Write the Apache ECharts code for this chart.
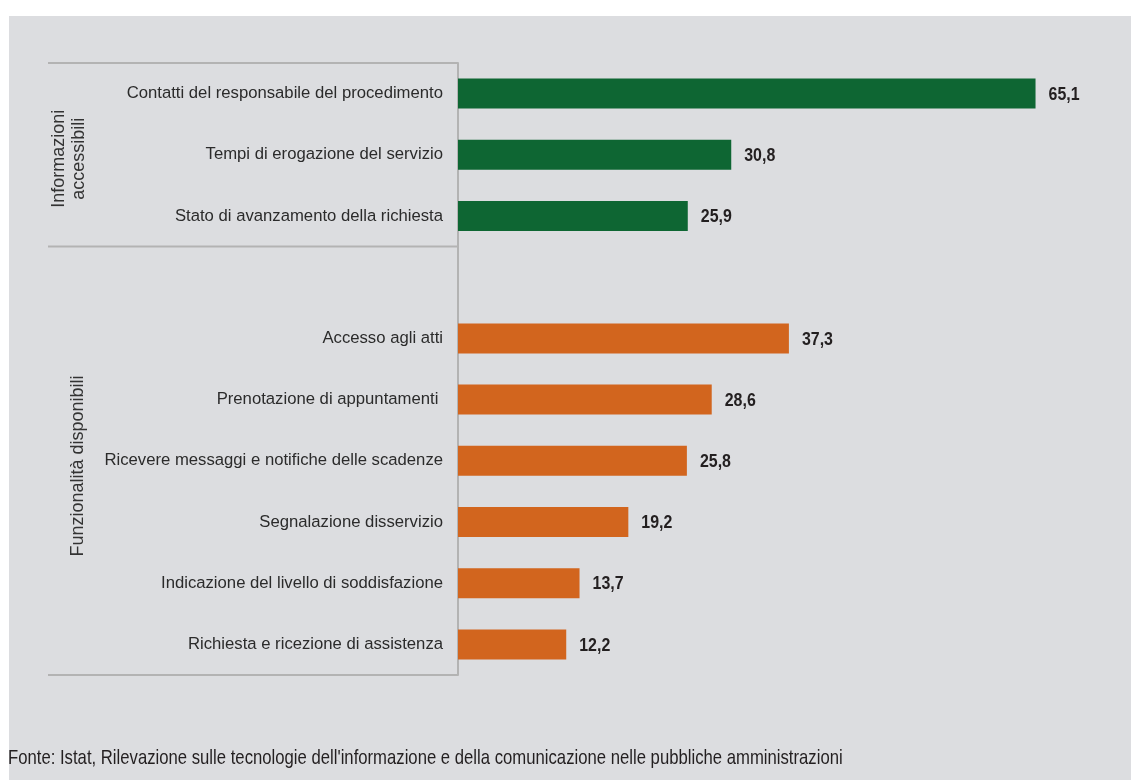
<!DOCTYPE html>
<html>
<head>
<meta charset="utf-8">
<script src="https://cdn.jsdelivr.net/npm/echarts@6/dist/echarts.min.js"></script>
<style>
html,body{margin:0;padding:0;background:#ffffff;}
#chart{width:1131px;height:780px;}
</style>
</head>
<body>
<div id="chart"></div>
<script>
// Categories (blank entry = gap between the two groups)
const categories = [
  'Contatti del responsabile del procedimento',
  'Tempi di erogazione del servizio',
  'Stato di avanzamento della richiesta',
  '',
  'Accesso agli atti',
  'Prenotazione di appuntamenti ',
  'Ricevere messaggi e notifiche delle scadenze',
  'Segnalazione disservizio',
  'Indicazione del livello di soddisfazione',
  'Richiesta e ricezione di assistenza'
];
const infoValues = [65.1, 30.8, 25.9, null, null, null, null, null, null, null];
const funzValues = [null, null, null, null, 37.3, 28.6, 25.8, 19.2, 13.7, 12.2];
const groupLabels = ['Informazioni\naccessibili', 'Funzionalità disponibili'];
const sourceText = "Fonte: Istat, Rilevazione sulle tecnologie dell'informazione e della comunicazione nelle pubbliche amministrazioni";

const GREEN = '#0e6633';
const ORANGE = '#d2651e';
const LINE = '#b3b3b3';
const BG = '#dcdde0';
const FONT = '"Liberation Sans", Arial, sans-serif';

// label points built from the value arrays
const labelData = [];
categories.forEach((c, i) => {
  const v = infoValues[i] != null ? infoValues[i] : funzValues[i];
  if (v != null) labelData.push([v, i]);
});

const chart = echarts.init(document.getElementById('chart'));

chart.setOption({
  animation: false,
  backgroundColor: 'transparent',
  grid: { left: 458, right: 52, top: 63, bottom: 105 },
  xAxis: { type: 'value', min: 0, max: 70, show: false },
  yAxis: {
    type: 'category',
    data: categories,
    inverse: true,
    axisLine: { show: true, lineStyle: { color: LINE, width: 2 } },
    axisTick: { show: false },
    axisLabel: { margin: 15, fontFamily: FONT, fontSize: 16.7, color: '#2b2b2b' },
    splitLine: { show: false }
  },
  series: [
    { type: 'bar', data: infoValues, barWidth: 30, barGap: '-100%', itemStyle: { color: GREEN } },
    { type: 'bar', data: funzValues, barWidth: 30, barGap: '-100%', itemStyle: { color: ORANGE } },
    {
      type: 'custom',
      data: labelData,
      encode: { x: 0, y: 1 },
      z: 10,
      renderItem: function (params, api) {
        const v = api.value(0);
        const pt = api.coord([v, api.value(1)]);
        return {
          type: 'text',
          x: pt[0] + 13,
          y: pt[1] + 1,
          scaleX: 0.84,
          style: {
            text: v.toFixed(1).replace('.', ','),
            fontFamily: FONT, fontWeight: 'bold', fontSize: 19,
            fill: '#231f20', align: 'left', verticalAlign: 'middle'
          }
        };
      }
    }
  ]
});

// Decorations derived from the category scale
const yAt = i => chart.convertToPixel({ yAxisIndex: 0 }, i);
const band = yAt(1) - yAt(0);
const yTop = yAt(0) - band / 2;
const ySplit = yAt(2) + band / 2;
const yBottom = yAt(categories.length - 1) + band / 2;
const xAxisPx = chart.convertToPixel({ xAxisIndex: 0 }, 0);
const xLeft = 48;

function hline(y) {
  return { type: 'line', z: 5, shape: { x1: xLeft, y1: y, x2: xAxisPx, y2: y }, style: { stroke: LINE, lineWidth: 2 } };
}

chart.setOption({
  graphic: [
    { type: 'rect', z: -10, shape: { x: 9, y: 16, width: 1131, height: 780 }, style: { fill: BG } },
    hline(yTop),
    hline(ySplit),
    hline(yBottom),
    {
      type: 'text', z: 5, x: 69, y: (yTop + ySplit) / 2 + 4, rotation: Math.PI / 2,
      style: { text: groupLabels[0], fontFamily: FONT, fontSize: 18, fill: '#333333', align: 'center', verticalAlign: 'middle', lineHeight: 20 }
    },
    {
      type: 'text', z: 5, x: 78, y: 466, rotation: Math.PI / 2,
      style: { text: groupLabels[1], fontFamily: FONT, fontSize: 18, fill: '#333333', align: 'center', verticalAlign: 'middle' }
    },
    {
      type: 'text', z: 5, x: 8, y: 758, scaleX: 0.795,
      style: { text: sourceText, fontFamily: FONT, fontSize: 21, fill: '#231f20', align: 'left', verticalAlign: 'middle' }
    }
  ]
});
</script>
</body>
</html>
